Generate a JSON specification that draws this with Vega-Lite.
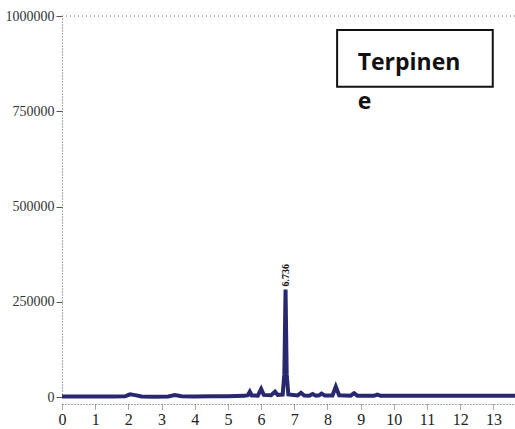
{
  "$schema": "https://vega.github.io/schema/vega-lite/v6.json",
  "width": 453,
  "height": 381,
  "autosize": "none",
  "padding": {"left": 62, "top": 16, "right": 0, "bottom": 32},
  "background": "white",
  "config": {"view": {"stroke": null}},
  "datasets": {
    "trace": [
      {"t": 0.0, "v": 1000}, {"t": 0.5, "v": 1000}, {"t": 1.0, "v": 1200}, {"t": 1.5, "v": 1500},
      {"t": 1.9, "v": 1800}, {"t": 2.05, "v": 7000}, {"t": 2.2, "v": 5000}, {"t": 2.4, "v": 1500},
      {"t": 2.8, "v": 500}, {"t": 3.2, "v": 1500}, {"t": 3.4, "v": 5000}, {"t": 3.6, "v": 2000},
      {"t": 4.0, "v": 1500}, {"t": 4.5, "v": 1800}, {"t": 5.0, "v": 2000}, {"t": 5.5, "v": 3000},
      {"t": 5.6, "v": 4500}, {"t": 5.66, "v": 14000}, {"t": 5.72, "v": 4000},
      {"t": 5.9, "v": 3500}, {"t": 6.0, "v": 21000}, {"t": 6.08, "v": 5500},
      {"t": 6.3, "v": 4500}, {"t": 6.42, "v": 14000}, {"t": 6.5, "v": 5500},
      {"t": 6.65, "v": 6500}, {"t": 6.7, "v": 60000}, {"t": 6.736, "v": 282000}, {"t": 6.77, "v": 60000}, {"t": 6.82, "v": 6500},
      {"t": 7.1, "v": 4000}, {"t": 7.2, "v": 11000}, {"t": 7.3, "v": 4000},
      {"t": 7.45, "v": 3500}, {"t": 7.55, "v": 8000}, {"t": 7.65, "v": 3500},
      {"t": 7.75, "v": 4500}, {"t": 7.82, "v": 9000}, {"t": 7.92, "v": 4000},
      {"t": 8.15, "v": 4000}, {"t": 8.25, "v": 27000}, {"t": 8.35, "v": 4500},
      {"t": 8.7, "v": 3500}, {"t": 8.8, "v": 10000}, {"t": 8.9, "v": 3500},
      {"t": 9.4, "v": 3000}, {"t": 9.5, "v": 6000}, {"t": 9.6, "v": 3000},
      {"t": 10.5, "v": 3000}, {"t": 11.5, "v": 3000}, {"t": 12.5, "v": 3000}, {"t": 13.65, "v": 3000}
    ]
  },
  "encoding": {
    "x": {"field": "t", "type": "quantitative", "scale": {"domain": [0, 13.65], "nice": false, "zero": false},
      "axis": {"title": null, "values": [0,1,2,3,4,5,6,7,8,9,10,11,12,13], "offset": 7, "labelOverlap": false, "labelFlush": false,
        "domainDash": [1, 2], "domainColor": "#555", "tickDash": [1, 1], "tickColor": "#555", "tickSize": 5,
        "labelFont": "Liberation Serif, serif", "labelFontSize": 16, "labelColor": "#222", "labelPadding": 2, "grid": false}},
    "y": {"field": "v", "type": "quantitative", "scale": {"domain": [0, 1000000], "nice": false},
      "axis": {"title": null, "values": [0, 250000, 500000, 750000, 1000000], "format": "d", "labelFlush": false,
        "domainDash": [1, 2], "domainColor": "#555", "tickColor": "#555", "tickSize": 6,
        "labelFont": "Liberation Serif, serif", "labelFontSize": 14, "labelColor": "#333", "labelPadding": 2, "grid": false}}
  },
  "layer": [
    {
      "data": {"name": "trace"},
      "mark": {"type": "line", "color": "#28286f", "strokeWidth": 4, "strokeJoin": "miter"}
    },
    {
      "data": {"values": [{"t": 0, "t2": 13.65, "v": 1000000}]},
      "mark": {"type": "rule", "strokeDash": [1, 3], "color": "#666", "strokeWidth": 1},
      "encoding": {"x2": {"field": "t2"}}
    },
    {
      "data": {"values": [{"t": 6.736, "v": 282000, "label": "6.736"}]},
      "mark": {"type": "text", "angle": 270, "align": "left", "baseline": "middle", "dx": 3, "font": "Liberation Serif, serif", "fontWeight": "bold", "fontSize": 10, "color": "#111"},
      "encoding": {"text": {"field": "label"}}
    },
    {
      "data": {"values": [{"t": 8.29, "t2": 12.98, "v": 814000, "v2": 963000}]},
      "mark": {"type": "rect", "fill": "white", "stroke": "#111", "strokeWidth": 2},
      "encoding": {"x2": {"field": "t2"}, "y2": {"field": "v2"}}
    },
    {
      "data": {"values": [{"t": 8.91, "v": 858000, "label": "Terpinen"}, {"t": 8.91, "v": 756000, "label": "e"}]},
      "mark": {"type": "text", "align": "left", "baseline": "alphabetic", "font": "Open Sans", "fontWeight": "bold", "fontSize": 23, "color": "#111"},
      "encoding": {"text": {"field": "label"}}
    }
  ]
}
